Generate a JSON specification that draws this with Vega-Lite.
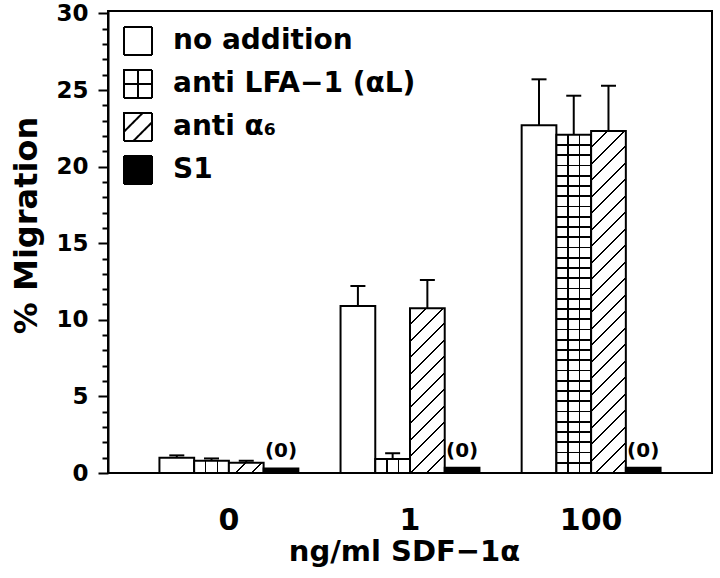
{
  "$schema": "https://vega.github.io/schema/vega-lite/v6.json",
  "width": 604,
  "height": 462,
  "autosize": {"type": "none"},
  "padding": {"left": 108, "top": 11, "right": 8, "bottom": 105},
  "background": "white",
  "config": {
    "view": {"stroke": "black", "strokeWidth": 2},
    "font": "DejaVu Sans",
    "axis": {"domainColor": "black", "domainWidth": 2, "tickColor": "black", "tickWidth": 2, "labelColor": "black", "titleColor": "black", "grid": false, "labelFont": "DejaVu Sans", "titleFont": "DejaVu Sans", "labelFontWeight": "bold", "titleFontWeight": "bold"},
    "axisX": {"labelAngle": 0, "ticks": false, "domain": false, "labelFontSize": 30, "labelPadding": 32, "titleFontSize": 29, "titlePadding": 2, "titleX": 296}
  },
  "resolve": {"axis": {"y": "independent"}},
  "data": {"values": [
    {"dose": "0", "treatment": "no addition", "code": "none", "migration": 1.0, "err_top": 1.15, "note": ""},
    {"dose": "0", "treatment": "anti LFA−1 (αL)", "code": "lfa", "migration": 0.8, "err_top": 0.95, "note": ""},
    {"dose": "0", "treatment": "anti α₆", "code": "a6", "migration": 0.67, "err_top": 0.8, "note": ""},
    {"dose": "0", "treatment": "S1", "code": "s1", "migration": 0.3, "err_top": null, "note": "(0)"},
    {"dose": "1", "treatment": "no addition", "code": "none", "migration": 10.9, "err_top": 12.2, "note": ""},
    {"dose": "1", "treatment": "anti LFA−1 (αL)", "code": "lfa", "migration": 0.91, "err_top": 1.29, "note": ""},
    {"dose": "1", "treatment": "anti α₆", "code": "a6", "migration": 10.75, "err_top": 12.6, "note": ""},
    {"dose": "1", "treatment": "S1", "code": "s1", "migration": 0.35, "err_top": null, "note": "(0)"},
    {"dose": "100", "treatment": "no addition", "code": "none", "migration": 22.7, "err_top": 25.7, "note": ""},
    {"dose": "100", "treatment": "anti LFA−1 (αL)", "code": "lfa", "migration": 22.08, "err_top": 24.63, "note": ""},
    {"dose": "100", "treatment": "anti α₆", "code": "a6", "migration": 22.32, "err_top": 25.28, "note": ""},
    {"dose": "100", "treatment": "S1", "code": "s1", "migration": 0.35, "err_top": null, "note": "(0)"}
  ]},
  "layer": [
    {
      "mark": {"type": "bar", "stroke": "black", "strokeWidth": 2},
      "encoding": {
        "x": {"field": "dose", "type": "nominal", "sort": ["0", "1", "100"], "scale": {"paddingInner": 0.233, "paddingOuter": 0.284},
          "axis": {"title": "ng/ml SDF−1α"}},
        "xOffset": {"field": "treatment", "type": "nominal", "scale": {"domain": ["no addition", "anti LFA−1 (αL)", "anti α₆", "S1"], "paddingInner": 0, "paddingOuter": 0}},
        "y": {"field": "migration", "type": "quantitative", "scale": {"domain": [0, 30.16], "nice": false, "zero": true},
          "axis": {"orient": "left", "values": [0, 5, 10, 15, 20, 25, 30], "tickSize": 10, "labelFontSize": 23, "labelPadding": 10, "title": "% Migration", "titleFontSize": 32, "titlePadding": 0, "titleX": -65, "titleY": 214}},
        "fill": {
          "condition": [
            {"test": "datum.code === 'lfa'", "value": {"gradient": "linear", "x1": 0, "y1": 0, "x2": 1, "y2": 0, "stops": [
              {"offset": 0, "color": "white"},
              {"offset": 0.311, "color": "white"}, {"offset": 0.311, "color": "black"}, {"offset": 0.355, "color": "black"}, {"offset": 0.355, "color": "white"},
              {"offset": 0.645, "color": "white"}, {"offset": 0.645, "color": "black"}, {"offset": 0.689, "color": "black"}, {"offset": 0.689, "color": "white"},
              {"offset": 1, "color": "white"}]}},
            {"test": "datum.code === 'a6' && datum.dose === '0'", "value": {"gradient": "linear", "x1": 0, "y1": 0, "x2": 1.192, "y2": 0.3533, "stops": [
              {"offset": 0, "color": "white"},
              {"offset": 0.343, "color": "white"}, {"offset": 0.343, "color": "black"}, {"offset": 0.391, "color": "black"}, {"offset": 0.391, "color": "white"},
              {"offset": 0.709, "color": "white"}, {"offset": 0.709, "color": "black"}, {"offset": 0.757, "color": "black"}, {"offset": 0.757, "color": "white"},
              {"offset": 1, "color": "white"}]}},
            {"test": "datum.code === 'a6' && datum.dose === '1'", "value": {"gradient": "linear", "x1": 0, "y1": 0, "x2": 0.2446, "y2": 1.1594, "stops": [
              {"offset": 0, "color": "white"},
              {"offset": 0.0775, "color": "white"}, {"offset": 0.0775, "color": "black"}, {"offset": 0.0881, "color": "black"}, {"offset": 0.0881, "color": "white"},
              {"offset": 0.1602, "color": "white"}, {"offset": 0.1602, "color": "black"}, {"offset": 0.1708, "color": "black"}, {"offset": 0.1708, "color": "white"},
              {"offset": 0.2430, "color": "white"}, {"offset": 0.2430, "color": "black"}, {"offset": 0.2536, "color": "black"}, {"offset": 0.2536, "color": "white"},
              {"offset": 0.3257, "color": "white"}, {"offset": 0.3257, "color": "black"}, {"offset": 0.3363, "color": "black"}, {"offset": 0.3363, "color": "white"},
              {"offset": 0.4085, "color": "white"}, {"offset": 0.4085, "color": "black"}, {"offset": 0.4191, "color": "black"}, {"offset": 0.4191, "color": "white"},
              {"offset": 0.4912, "color": "white"}, {"offset": 0.4912, "color": "black"}, {"offset": 0.5018, "color": "black"}, {"offset": 0.5018, "color": "white"},
              {"offset": 0.5740, "color": "white"}, {"offset": 0.5740, "color": "black"}, {"offset": 0.5846, "color": "black"}, {"offset": 0.5846, "color": "white"},
              {"offset": 0.6567, "color": "white"}, {"offset": 0.6567, "color": "black"}, {"offset": 0.6673, "color": "black"}, {"offset": 0.6673, "color": "white"},
              {"offset": 0.7395, "color": "white"}, {"offset": 0.7395, "color": "black"}, {"offset": 0.7501, "color": "black"}, {"offset": 0.7501, "color": "white"},
              {"offset": 0.8222, "color": "white"}, {"offset": 0.8222, "color": "black"}, {"offset": 0.8328, "color": "black"}, {"offset": 0.8328, "color": "white"},
              {"offset": 0.9050, "color": "white"}, {"offset": 0.9050, "color": "black"}, {"offset": 0.9156, "color": "black"}, {"offset": 0.9156, "color": "white"},
              {"offset": 1, "color": "white"}]}},
            {"test": "datum.code === 'a6' && datum.dose === '100'", "value": {"gradient": "linear", "x1": 0, "y1": 0, "x2": 0.1108, "y2": 1.0903, "stops": [
              {"offset": 0, "color": "white"},
              {"offset": 0.0410, "color": "white"}, {"offset": 0.0410, "color": "black"}, {"offset": 0.0466, "color": "black"}, {"offset": 0.0466, "color": "white"},
              {"offset": 0.0848, "color": "white"}, {"offset": 0.0848, "color": "black"}, {"offset": 0.0904, "color": "black"}, {"offset": 0.0904, "color": "white"},
              {"offset": 0.1286, "color": "white"}, {"offset": 0.1286, "color": "black"}, {"offset": 0.1342, "color": "black"}, {"offset": 0.1342, "color": "white"},
              {"offset": 0.1724, "color": "white"}, {"offset": 0.1724, "color": "black"}, {"offset": 0.1780, "color": "black"}, {"offset": 0.1780, "color": "white"},
              {"offset": 0.2162, "color": "white"}, {"offset": 0.2162, "color": "black"}, {"offset": 0.2218, "color": "black"}, {"offset": 0.2218, "color": "white"},
              {"offset": 0.2600, "color": "white"}, {"offset": 0.2600, "color": "black"}, {"offset": 0.2656, "color": "black"}, {"offset": 0.2656, "color": "white"},
              {"offset": 0.3038, "color": "white"}, {"offset": 0.3038, "color": "black"}, {"offset": 0.3094, "color": "black"}, {"offset": 0.3094, "color": "white"},
              {"offset": 0.3476, "color": "white"}, {"offset": 0.3476, "color": "black"}, {"offset": 0.3532, "color": "black"}, {"offset": 0.3532, "color": "white"},
              {"offset": 0.3914, "color": "white"}, {"offset": 0.3914, "color": "black"}, {"offset": 0.3970, "color": "black"}, {"offset": 0.3970, "color": "white"},
              {"offset": 0.4352, "color": "white"}, {"offset": 0.4352, "color": "black"}, {"offset": 0.4408, "color": "black"}, {"offset": 0.4408, "color": "white"},
              {"offset": 0.4790, "color": "white"}, {"offset": 0.4790, "color": "black"}, {"offset": 0.4846, "color": "black"}, {"offset": 0.4846, "color": "white"},
              {"offset": 0.5228, "color": "white"}, {"offset": 0.5228, "color": "black"}, {"offset": 0.5284, "color": "black"}, {"offset": 0.5284, "color": "white"},
              {"offset": 0.5666, "color": "white"}, {"offset": 0.5666, "color": "black"}, {"offset": 0.5722, "color": "black"}, {"offset": 0.5722, "color": "white"},
              {"offset": 0.6104, "color": "white"}, {"offset": 0.6104, "color": "black"}, {"offset": 0.6160, "color": "black"}, {"offset": 0.6160, "color": "white"},
              {"offset": 0.6542, "color": "white"}, {"offset": 0.6542, "color": "black"}, {"offset": 0.6598, "color": "black"}, {"offset": 0.6598, "color": "white"},
              {"offset": 0.6980, "color": "white"}, {"offset": 0.6980, "color": "black"}, {"offset": 0.7036, "color": "black"}, {"offset": 0.7036, "color": "white"},
              {"offset": 0.7418, "color": "white"}, {"offset": 0.7418, "color": "black"}, {"offset": 0.7474, "color": "black"}, {"offset": 0.7474, "color": "white"},
              {"offset": 0.7856, "color": "white"}, {"offset": 0.7856, "color": "black"}, {"offset": 0.7912, "color": "black"}, {"offset": 0.7912, "color": "white"},
              {"offset": 0.8294, "color": "white"}, {"offset": 0.8294, "color": "black"}, {"offset": 0.8350, "color": "black"}, {"offset": 0.8350, "color": "white"},
              {"offset": 0.8732, "color": "white"}, {"offset": 0.8732, "color": "black"}, {"offset": 0.8788, "color": "black"}, {"offset": 0.8788, "color": "white"},
              {"offset": 0.9170, "color": "white"}, {"offset": 0.9170, "color": "black"}, {"offset": 0.9226, "color": "black"}, {"offset": 0.9226, "color": "white"},
              {"offset": 0.9608, "color": "white"}, {"offset": 0.9608, "color": "black"}, {"offset": 0.9664, "color": "black"}, {"offset": 0.9664, "color": "white"},
              {"offset": 1, "color": "white"}]}},
            {"test": "datum.code === 's1'", "value": "black"}
          ],
          "value": "white"
        },
        "strokeDash": {"field": "treatment", "type": "nominal",
          "scale": {"domain": ["no addition", "anti LFA−1 (αL)", "anti α₆", "S1"], "range": [[1, 0], [1, 0], [1, 0], [1, 0]]},
          "legend": {"orient": "top-left", "offset": 15, "padding": 0, "title": null, "symbolType": "square", "symbolSize": 784, "symbolStrokeColor": "black", "symbolStrokeWidth": 2, "symbolOpacity": 1, "labelFont": "DejaVu Sans", "labelFontWeight": "bold", "labelFontSize": 28, "labelColor": "black", "labelOffset": 20, "rowPadding": 7, "labelLimit": 500,
            "encoding": {"symbols": {
              "stroke": {"value": "black"},
              "strokeWidth": {"value": 2},
              "shape": {"condition": [
                {"test": "datum.value === 'anti LFA−1 (αL)'", "value": "M-1,-1H1V1H-1Z M0,-1V1 M-1,0H1"},
                {"test": "datum.value === 'anti α₆'", "value": "M-1,-1H1V1H-1Z M-1,0.3333L0.3333,-1 M-0.3333,1L1,-0.3333"}
              ], "value": "square"},
              "fill": {"condition": [
                {"test": "datum.value === 'S1'", "value": "black"}
              ], "value": "white"}
            }}
          }
        }
      }
    },
    {
      "transform": [{"filter": "datum.code === 'lfa' && datum.dose === '100'"}],
      "mark": {"type": "bar", "strokeWidth": 0, "fill": {"gradient": "linear", "x1": 0, "y1": 0, "x2": 0, "y2": 1, "stops": [
        {"offset": 0, "color": "rgba(0,0,0,0)"},
        {"offset": 0.0279, "color": "rgba(0,0,0,0)"}, {"offset": 0.0279, "color": "black"}, {"offset": 0.0327, "color": "black"}, {"offset": 0.0327, "color": "rgba(0,0,0,0)"},
        {"offset": 0.0582, "color": "rgba(0,0,0,0)"}, {"offset": 0.0582, "color": "black"}, {"offset": 0.0630, "color": "black"}, {"offset": 0.0630, "color": "rgba(0,0,0,0)"},
        {"offset": 0.0885, "color": "rgba(0,0,0,0)"}, {"offset": 0.0885, "color": "black"}, {"offset": 0.0933, "color": "black"}, {"offset": 0.0933, "color": "rgba(0,0,0,0)"},
        {"offset": 0.1188, "color": "rgba(0,0,0,0)"}, {"offset": 0.1188, "color": "black"}, {"offset": 0.1236, "color": "black"}, {"offset": 0.1236, "color": "rgba(0,0,0,0)"},
        {"offset": 0.1491, "color": "rgba(0,0,0,0)"}, {"offset": 0.1491, "color": "black"}, {"offset": 0.1539, "color": "black"}, {"offset": 0.1539, "color": "rgba(0,0,0,0)"},
        {"offset": 0.1794, "color": "rgba(0,0,0,0)"}, {"offset": 0.1794, "color": "black"}, {"offset": 0.1842, "color": "black"}, {"offset": 0.1842, "color": "rgba(0,0,0,0)"},
        {"offset": 0.2097, "color": "rgba(0,0,0,0)"}, {"offset": 0.2097, "color": "black"}, {"offset": 0.2145, "color": "black"}, {"offset": 0.2145, "color": "rgba(0,0,0,0)"},
        {"offset": 0.2400, "color": "rgba(0,0,0,0)"}, {"offset": 0.2400, "color": "black"}, {"offset": 0.2448, "color": "black"}, {"offset": 0.2448, "color": "rgba(0,0,0,0)"},
        {"offset": 0.2703, "color": "rgba(0,0,0,0)"}, {"offset": 0.2703, "color": "black"}, {"offset": 0.2751, "color": "black"}, {"offset": 0.2751, "color": "rgba(0,0,0,0)"},
        {"offset": 0.3006, "color": "rgba(0,0,0,0)"}, {"offset": 0.3006, "color": "black"}, {"offset": 0.3054, "color": "black"}, {"offset": 0.3054, "color": "rgba(0,0,0,0)"},
        {"offset": 0.3309, "color": "rgba(0,0,0,0)"}, {"offset": 0.3309, "color": "black"}, {"offset": 0.3357, "color": "black"}, {"offset": 0.3357, "color": "rgba(0,0,0,0)"},
        {"offset": 0.3612, "color": "rgba(0,0,0,0)"}, {"offset": 0.3612, "color": "black"}, {"offset": 0.3660, "color": "black"}, {"offset": 0.3660, "color": "rgba(0,0,0,0)"},
        {"offset": 0.3915, "color": "rgba(0,0,0,0)"}, {"offset": 0.3915, "color": "black"}, {"offset": 0.3963, "color": "black"}, {"offset": 0.3963, "color": "rgba(0,0,0,0)"},
        {"offset": 0.4218, "color": "rgba(0,0,0,0)"}, {"offset": 0.4218, "color": "black"}, {"offset": 0.4266, "color": "black"}, {"offset": 0.4266, "color": "rgba(0,0,0,0)"},
        {"offset": 0.4521, "color": "rgba(0,0,0,0)"}, {"offset": 0.4521, "color": "black"}, {"offset": 0.4569, "color": "black"}, {"offset": 0.4569, "color": "rgba(0,0,0,0)"},
        {"offset": 0.4824, "color": "rgba(0,0,0,0)"}, {"offset": 0.4824, "color": "black"}, {"offset": 0.4872, "color": "black"}, {"offset": 0.4872, "color": "rgba(0,0,0,0)"},
        {"offset": 0.5128, "color": "rgba(0,0,0,0)"}, {"offset": 0.5128, "color": "black"}, {"offset": 0.5176, "color": "black"}, {"offset": 0.5176, "color": "rgba(0,0,0,0)"},
        {"offset": 0.5431, "color": "rgba(0,0,0,0)"}, {"offset": 0.5431, "color": "black"}, {"offset": 0.5479, "color": "black"}, {"offset": 0.5479, "color": "rgba(0,0,0,0)"},
        {"offset": 0.5734, "color": "rgba(0,0,0,0)"}, {"offset": 0.5734, "color": "black"}, {"offset": 0.5782, "color": "black"}, {"offset": 0.5782, "color": "rgba(0,0,0,0)"},
        {"offset": 0.6037, "color": "rgba(0,0,0,0)"}, {"offset": 0.6037, "color": "black"}, {"offset": 0.6085, "color": "black"}, {"offset": 0.6085, "color": "rgba(0,0,0,0)"},
        {"offset": 0.6340, "color": "rgba(0,0,0,0)"}, {"offset": 0.6340, "color": "black"}, {"offset": 0.6388, "color": "black"}, {"offset": 0.6388, "color": "rgba(0,0,0,0)"},
        {"offset": 0.6643, "color": "rgba(0,0,0,0)"}, {"offset": 0.6643, "color": "black"}, {"offset": 0.6691, "color": "black"}, {"offset": 0.6691, "color": "rgba(0,0,0,0)"},
        {"offset": 0.6946, "color": "rgba(0,0,0,0)"}, {"offset": 0.6946, "color": "black"}, {"offset": 0.6994, "color": "black"}, {"offset": 0.6994, "color": "rgba(0,0,0,0)"},
        {"offset": 0.7249, "color": "rgba(0,0,0,0)"}, {"offset": 0.7249, "color": "black"}, {"offset": 0.7297, "color": "black"}, {"offset": 0.7297, "color": "rgba(0,0,0,0)"},
        {"offset": 0.7552, "color": "rgba(0,0,0,0)"}, {"offset": 0.7552, "color": "black"}, {"offset": 0.7600, "color": "black"}, {"offset": 0.7600, "color": "rgba(0,0,0,0)"},
        {"offset": 0.7855, "color": "rgba(0,0,0,0)"}, {"offset": 0.7855, "color": "black"}, {"offset": 0.7903, "color": "black"}, {"offset": 0.7903, "color": "rgba(0,0,0,0)"},
        {"offset": 0.8158, "color": "rgba(0,0,0,0)"}, {"offset": 0.8158, "color": "black"}, {"offset": 0.8206, "color": "black"}, {"offset": 0.8206, "color": "rgba(0,0,0,0)"},
        {"offset": 0.8461, "color": "rgba(0,0,0,0)"}, {"offset": 0.8461, "color": "black"}, {"offset": 0.8509, "color": "black"}, {"offset": 0.8509, "color": "rgba(0,0,0,0)"},
        {"offset": 0.8764, "color": "rgba(0,0,0,0)"}, {"offset": 0.8764, "color": "black"}, {"offset": 0.8812, "color": "black"}, {"offset": 0.8812, "color": "rgba(0,0,0,0)"},
        {"offset": 0.9067, "color": "rgba(0,0,0,0)"}, {"offset": 0.9067, "color": "black"}, {"offset": 0.9115, "color": "black"}, {"offset": 0.9115, "color": "rgba(0,0,0,0)"},
        {"offset": 0.9370, "color": "rgba(0,0,0,0)"}, {"offset": 0.9370, "color": "black"}, {"offset": 0.9418, "color": "black"}, {"offset": 0.9418, "color": "rgba(0,0,0,0)"},
        {"offset": 0.9673, "color": "rgba(0,0,0,0)"}, {"offset": 0.9673, "color": "black"}, {"offset": 0.9721, "color": "black"}, {"offset": 0.9721, "color": "rgba(0,0,0,0)"},
        {"offset": 1, "color": "rgba(0,0,0,0)"}]}},
      "encoding": {
        "x": {"field": "dose", "type": "nominal", "sort": ["0", "1", "100"]},
        "xOffset": {"field": "treatment", "type": "nominal"},
        "y": {"field": "migration", "type": "quantitative", "axis": null}
      }
    },
    {
      "transform": [{"filter": "datum.err_top != null"}],
      "mark": {"type": "rule", "color": "black", "strokeWidth": 2},
      "encoding": {
        "x": {"field": "dose", "type": "nominal", "sort": ["0", "1", "100"]},
        "xOffset": {"field": "treatment", "type": "nominal"},
        "y": {"field": "migration", "type": "quantitative",
          "axis": {"orient": "left", "values": [1, 2, 3, 4, 6, 7, 8, 9, 11, 12, 13, 14, 16, 17, 18, 19, 21, 22, 23, 24, 26, 27, 28, 29], "tickSize": 6, "labels": false, "domain": false, "title": null}},
        "y2": {"field": "err_top"}
      }
    },
    {
      "transform": [{"filter": "datum.err_top != null"}],
      "mark": {"type": "tick", "color": "black", "fill": "black", "opacity": 1, "size": 15, "thickness": 2, "orient": "horizontal"},
      "encoding": {
        "x": {"field": "dose", "type": "nominal", "sort": ["0", "1", "100"]},
        "xOffset": {"field": "treatment", "type": "nominal"},
        "y": {"field": "err_top", "type": "quantitative", "axis": null}
      }
    },
    {
      "transform": [{"filter": "datum.code === 's1'"}],
      "mark": {"type": "text", "baseline": "bottom", "dy": -7, "fontSize": 20, "fontWeight": "bold", "font": "DejaVu Sans", "fill": "black"},
      "encoding": {
        "x": {"field": "dose", "type": "nominal", "sort": ["0", "1", "100"]},
        "xOffset": {"field": "treatment", "type": "nominal"},
        "y": {"field": "migration", "type": "quantitative", "axis": null},
        "text": {"field": "note"}
      }
    }
  ]
}
